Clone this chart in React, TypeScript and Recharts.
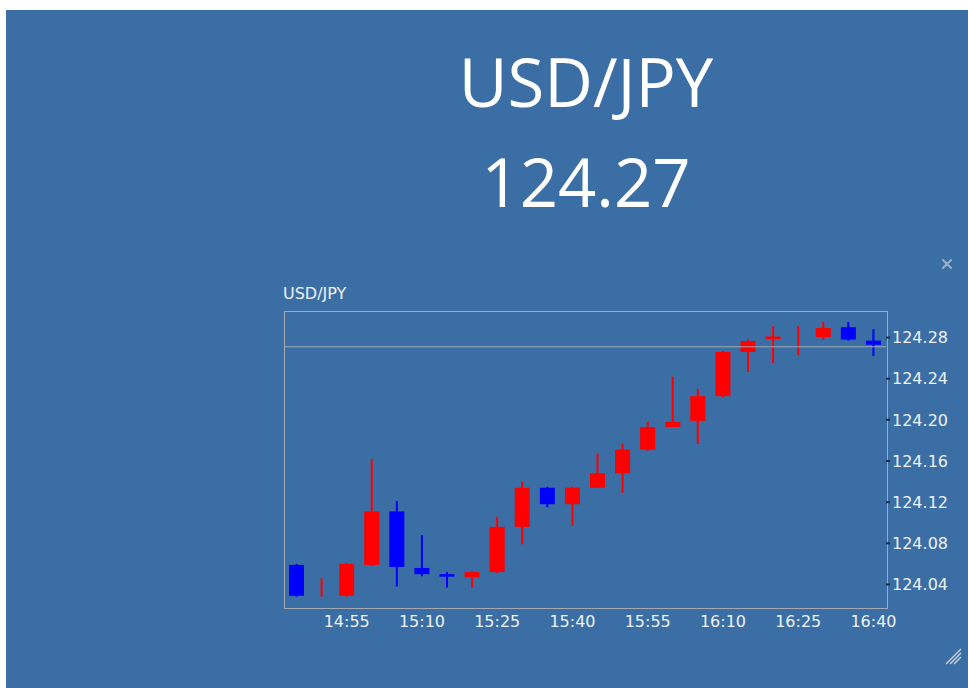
import React from 'react';
import { ComposedChart, Bar, XAxis, YAxis, ReferenceLine } from 'recharts';

const symbol = 'USD/JPY';
const lastPrice = 124.271;

const times = [
  '14:45', '14:50', '14:55', '15:00', '15:05', '15:10', '15:15', '15:20',
  '15:25', '15:30', '15:35', '15:40', '15:45', '15:50', '15:55', '16:00',
  '16:05', '16:10', '16:15', '16:20', '16:25', '16:30', '16:35', '16:40',
];
const opens = [
  124.059, 124.035, 124.029, 124.059, 124.111, 124.056, 124.050, 124.047,
  124.052, 124.096, 124.134, 124.118, 124.134, 124.148, 124.171, 124.193,
  124.199, 124.223, 124.266, 124.279, 124.278, 124.2805, 124.290, 124.277,
];
const highs = [
  124.060, 124.046, 124.061, 124.162, 124.121, 124.088, 124.052, 124.053,
  124.106, 124.140, 124.135, 124.135, 124.167, 124.177, 124.198, 124.242,
  124.230, 124.267, 124.278, 124.291, 124.291, 124.295, 124.295, 124.288,
];
const lows = [
  124.028, 124.028, 124.028, 124.058, 124.038, 124.048, 124.037, 124.037,
  124.051, 124.079, 124.115, 124.097, 124.134, 124.129, 124.170, 124.193,
  124.1765, 124.222, 124.2465, 124.255, 124.263, 124.2776, 124.277, 124.262,
];
const closes = [
  124.029, 124.035, 124.060, 124.111, 124.057, 124.050, 124.048, 124.052,
  124.096, 124.134, 124.118, 124.134, 124.148, 124.171, 124.193, 124.198,
  124.223, 124.266, 124.2766, 124.281, 124.278, 124.2892, 124.278, 124.273,
];
const timeTickLabels = ['14:55', '15:10', '15:25', '15:40', '15:55', '16:10', '16:25', '16:40'];
const priceTicks = [124.04, 124.08, 124.12, 124.16, 124.2, 124.24, 124.28];
const priceDomain = [124.0171, 124.3058];

const data = times.map((t, i) => ({
  time: t,
  open: opens[i],
  high: highs[i],
  low: lows[i],
  close: closes[i],
}));

const UP = '#ff0000';
const DOWN = '#0000ff';
const LABEL = '#eef2f7';
const FONT = '"DejaVu Sans", Verdana, sans-serif';

const Candle = (props: any) => {
  const { x, y, width, height, payload } = props;
  if (!payload || height == null) return null;
  const { open, close, high, low } = payload;
  const up = close >= open;
  const color = up ? UP : DOWN;
  const range = high - low;
  const k = range > 0 ? height / range : 0;
  const bodyTop = y + (high - Math.max(open, close)) * k;
  const bodyH = Math.abs(open - close) * k;
  const cx = x + width / 2;
  return (
    <g>
      <line x1={cx} x2={cx} y1={y} y2={y + height} stroke={color} strokeWidth={2} />
      {bodyH > 0.5 && (
        <rect x={x} y={bodyTop} width={width} height={Math.max(bodyH, 2.5)} fill={color} />
      )}
    </g>
  );
};

export default function App() {
  return (
    <div style={{ position: 'absolute', left: 0, top: 0, width: 968, height: 688, fontFamily: FONT }}>
      <div style={{ position: 'absolute', left: 6, top: 10, right: 0, bottom: 0, background: '#3a6ea5' }} />
      <div
        style={{
          position: 'absolute',
          left: 284,
          top: 311,
          width: 604,
          height: 298,
          boxSizing: 'border-box',
          border: '1px solid #a3a9b0',
        }}
      />
      <div style={{ position: 'absolute', left: 0, top: 0 }}>
        <ComposedChart
          width={968}
          height={688}
          data={data}
          margin={{ top: 311, right: 22, bottom: 50, left: 284 }}
        >
          <XAxis
            dataKey="time"
            interval={0}
            tickLine={false}
            axisLine={false}
            height={30}
            tick={{ fill: LABEL, fontSize: 16, fontFamily: FONT }}
            tickFormatter={(v: string) => (timeTickLabels.includes(v) ? v : '')}
          />
          <YAxis
            orientation="right"
            type="number"
            domain={priceDomain}
            allowDataOverflow
            ticks={priceTicks}
            interval={0}
            width={60}
            axisLine={false}
            tickSize={4}
            tickLine={{ stroke: '#1c2a44', strokeWidth: 2 }}
            tick={{ fill: LABEL, fontSize: 16, fontFamily: FONT }}
            tickFormatter={(v: number) => v.toFixed(2)}
          />
          <ReferenceLine y={lastPrice} stroke="#a3a9b0" strokeWidth={1} />
          <Bar
            dataKey={(d: any) => [d.low, d.high]}
            barSize={15}
            shape={(p: any) => <Candle {...p} />}
            isAnimationActive={false}
          />
        </ComposedChart>
      </div>
      <svg
        width={968}
        height={688}
        style={{ position: 'absolute', left: 0, top: 0, pointerEvents: 'none' }}
      >
        <text x={586} y={107} textAnchor="middle" fill="#ffffff" fontSize={67} fontFamily='"Open Sans", sans-serif'>
          {symbol}
        </text>
        <text x={586} y={207} textAnchor="middle" fill="#ffffff" fontSize={67} fontFamily='"Open Sans", sans-serif'>
          {lastPrice.toFixed(2)}
        </text>
        <text x={283} y={299} fill={LABEL} fontSize={16} fontFamily={FONT}>
          {symbol}
        </text>
        <g stroke="#9fb0c6" strokeWidth={2} strokeLinecap="round">
          <line x1={943} y1={260} x2={951} y2={268} />
          <line x1={951} y1={260} x2={943} y2={268} />
        </g>
        <g stroke="#c8d2de" strokeWidth={1.5}>
          <line x1={946} y1={664} x2={961} y2={649} />
          <line x1={950} y1={664} x2={961} y2={653} />
          <line x1={954} y1={664} x2={961} y2={657} />
        </g>
      </svg>
    </div>
  );
}
